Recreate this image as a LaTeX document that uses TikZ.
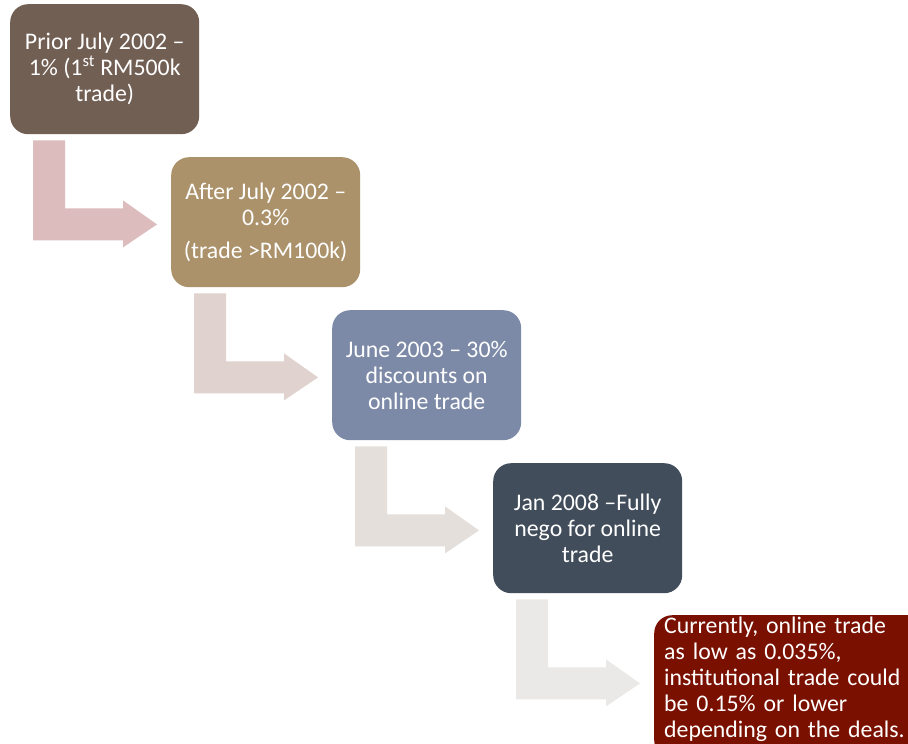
\documentclass[tikz,border=0pt]{standalone}
\usepackage{fontspec}
\setmainfont{Carlito}
\usetikzlibrary{calc}
\definecolor{cbox1}{HTML}{725F54}
\definecolor{cbox2}{HTML}{AB926B}
\definecolor{cbox3}{HTML}{7C8AA8}
\definecolor{cbox4}{HTML}{414D5B}
\definecolor{cbox5}{HTML}{7A1100}
\definecolor{carr1}{HTML}{DCBCBD}
\definecolor{carr2}{HTML}{E0D2CF}
\definecolor{carr3}{HTML}{E5DFDC}
\definecolor{carr4}{HTML}{EBE9E7}
\tikzset{
  stepbox/.style={rounded corners=18pt, minimum width=189pt, minimum height=130pt,
    anchor=north west, text=white, align=center, inner sep=2pt,
    font=\fontsize{23.8}{26}\selectfont},
  lastbox/.style={rounded corners=18pt, anchor=north west, text=white, align=left,
    text width=260pt, inner xsep=10pt, inner ysep=0pt, text height=18pt,
    text depth=125pt, font=\fontsize{23.8}{26}\selectfont},
}
\newcommand\bentarrow[2]{%
  \path[fill=#2] ($(#1.south west)+(23,6)$) -- ++(32,0) -- ++(0,68) -- ++(58,0)
    -- ++(0,-8) -- ++(34,24) -- ++(-34,23) -- ++(0,-7) -- ++(-90,0) -- cycle;}
\begin{document}
\begin{tikzpicture}[x=1pt,y=-1pt]
\clip (0,0) rectangle (908,744);
\fill[white] (0,0) rectangle (908,744);
\node[stepbox, fill=cbox1] (b1) at (10,4) {Prior July 2002 --\\1\% (1\textsuperscript{st} RM500k\\trade)};
\node[stepbox, fill=cbox2] (b2) at (171,157) {After July 2002 --\\0.3\%\\[7pt](trade >RM100k)};
\node[stepbox, fill=cbox3] (b3) at (332,310) {June 2003 -- 30\%\\discounts on\\online trade};
\node[stepbox, fill=cbox4] (b4) at (493,463) {Jan 2008 --Fully\\nego for online\\trade};
\node[lastbox, fill=cbox5] (b5) at (654,615) {Currently, online trade\\as low as 0.035\%,\\institutional trade could\\be 0.15\% or lower\\depending on the deals.};
\bentarrow{b1}{carr1}
\bentarrow{b2}{carr2}
\bentarrow{b3}{carr3}
\bentarrow{b4}{carr4}
\end{tikzpicture}
\end{document}
